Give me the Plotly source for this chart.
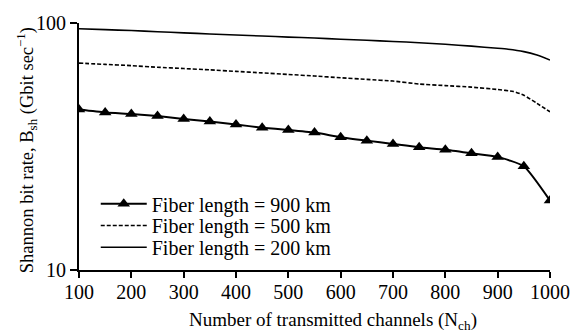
import plotly.graph_objects as go

# Data
x_900 = [100, 150, 200, 250, 300, 350, 400, 450, 500, 550, 600, 650, 700, 750, 800, 850, 900, 950, 1000]
y_900 = [44.6, 43.4, 42.8, 42.0, 40.9, 39.9, 38.8, 37.7, 36.9, 36.0, 34.5, 33.4, 32.4, 31.4, 30.7, 29.7, 28.7, 26.3, 19.1]

x_500 = [100, 150, 200, 250, 300, 350, 400, 450, 500, 550, 600, 650, 700, 750, 800, 850, 900, 930, 950, 975, 1000]
y_500 = [68.8, 68.0, 67.2, 66.2, 65.4, 64.6, 63.7, 62.8, 61.9, 61.0, 60.0, 59.1, 58.2, 56.6, 55.8, 55.0, 53.8, 52.8, 51.0, 47.3, 43.7]

x_200 = [100, 150, 200, 250, 300, 350, 400, 450, 500, 550, 600, 650, 700, 750, 800, 850, 900, 920, 950, 975, 1000]
y_200 = [94.8, 94.0, 93.2, 92.2, 91.2, 90.3, 89.4, 88.6, 87.7, 86.9, 86.0, 85.1, 84.2, 83.2, 82.0, 80.6, 79.0, 78.3, 76.6, 74.2, 70.8]

names = ["Fiber length = 900 km", "Fiber length = 500 km", "Fiber length = 200 km"]
x_ticks = [100, 200, 300, 400, 500, 600, 700, 800, 900, 1000]
y_ticks = [10, 100]

FONT = "Liberation Serif, Times New Roman, serif"

fig = go.Figure()
fig.add_trace(go.Scatter(x=x_900, y=y_900, name=names[0], mode="lines+markers", legend="legend",
                         line=dict(color="black", width=2, shape="spline", smoothing=0.5),
                         marker=dict(symbol="triangle-up", size=11, color="black")))
fig.add_trace(go.Scatter(x=x_500, y=y_500, name=names[1], mode="lines", legend="legend2",
                         line=dict(color="black", width=1.6, dash="4px,2px", shape="spline", smoothing=0.5)))
fig.add_trace(go.Scatter(x=x_200, y=y_200, name=names[2], mode="lines", legend="legend3",
                         line=dict(color="black", width=1.6, shape="spline", smoothing=0.5)))

def leg(ypix):
    # ypix: vertical centre of the legend row, in figure pixels
    return dict(x=(96 - 79) / 478, y=(270 - ypix) / 250, xanchor="left", yanchor="middle",
                bgcolor="rgba(0,0,0,0)", font=dict(family=FONT, size=20),
                itemwidth=46, borderwidth=0)

fig.update_layout(
    width=582, height=335,
    margin=dict(l=79, r=25, t=20, b=65),
    paper_bgcolor="white", plot_bgcolor="white",
    font=dict(family=FONT, size=20, color="black"),
    showlegend=True,
    legend=leg(203), legend2=leg(225), legend3=leg(247),
    xaxis=dict(range=[100, 1000], tickvals=x_ticks, showgrid=False, zeroline=False,
               showline=True, linecolor="black", linewidth=2,
               ticks="outside", ticklen=6, tickwidth=2, tickcolor="black",
               ticklabelstandoff=-3,
               tickfont=dict(family=FONT, size=20)),
    yaxis=dict(type="log", range=[1, 2], tickvals=y_ticks, ticktext=["10", "100"],
               showgrid=False, zeroline=False,
               showline=True, linecolor="black", linewidth=2,
               ticks="outside", ticklen=7, tickwidth=2, tickcolor="black",
               tickfont=dict(family=FONT, size=20)),
    annotations=[
        dict(text="Number of transmitted channels (N<sub>ch</sub>)", xref="paper", yref="paper",
             x=(337 - 79) / 478, y=(270 - 322) / 250, xanchor="center", yanchor="middle", showarrow=False,
             font=dict(family=FONT, size=19)),
        dict(text="Shannon bit rate, B<sub>sh</sub> (Gbit sec<sup>−1</sup>)", xref="paper", yref="paper",
             x=(26 - 79) / 478, y=(270 - 149) / 250, xanchor="center", yanchor="middle", showarrow=False,
             textangle=-90, font=dict(family=FONT, size=18.5)),
    ],
)

fig.write_html("out.html", config={"displayModeBar": False},
               post_script="document.body.style.margin='0';")
